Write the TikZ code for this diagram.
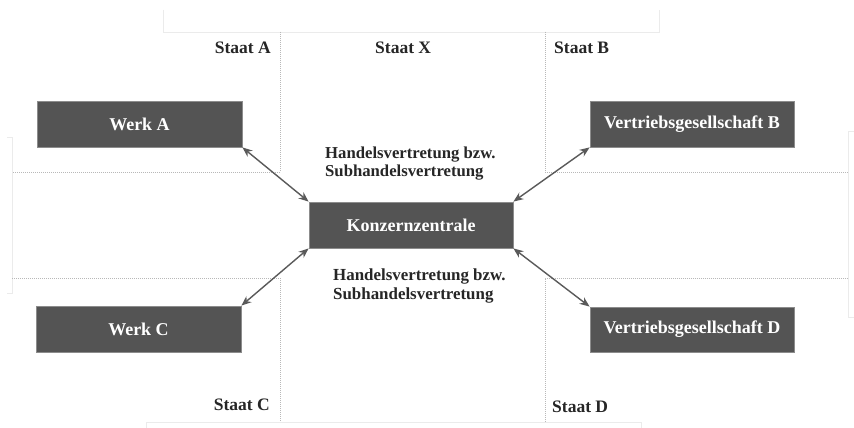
\documentclass[tikz,border=0pt]{standalone}
\usepackage{fontspec}
\setmainfont{Liberation Serif}
\usetikzlibrary{arrows.meta}
\definecolor{boxfill}{HTML}{545454}
\definecolor{boxborder}{HTML}{8C8C8C}
\definecolor{arrowgray}{HTML}{5A5A5A}
\definecolor{dotgray}{HTML}{B8B8B8}
\definecolor{faintgray}{HTML}{EBEBEB}
\definecolor{labeltext}{HTML}{262626}
\tikzset{
  unitbox/.style={rectangle, fill=boxfill, draw=boxborder, line width=0.8pt,
    minimum width=205pt, minimum height=46pt, inner sep=0pt,
    text=white, font=\fontsize{18}{20}\selectfont\bfseries},
  staatlabel/.style={inner sep=0pt, text=labeltext, font=\fontsize{17.5}{20}\selectfont\bfseries},
  handels/.style={inner sep=0pt, align=left, text=labeltext},
  link/.style={draw=arrowgray, line width=1.4pt, {Stealth[length=10pt,width=8pt]}-{Stealth[length=10pt,width=8pt]}},
  border/.style={draw=dotgray, line width=0.9pt, dash pattern=on 1pt off 1pt},
  faint/.style={draw=faintgray, line width=0.9pt}
}
\begin{document}
\begin{tikzpicture}[x=1pt,y=-1pt]
\useasboundingbox[fill=white] (0,0) rectangle (854,428);
% faint frame lines
\draw[faint] (163,10) -- (163,32) -- (659,32) -- (659,10);
\draw[faint] (7,137) -- (12,137) -- (12,293) -- (7,293);
\draw[faint] (854,131) -- (848,131) -- (848,317) -- (854,317);
\draw[faint] (146,428) -- (146,422) -- (641,422) -- (641,428);
% state borders
\draw[border] (280,32) -- (280,172) -- (12,172);
\draw[border] (545,32) -- (545,172) -- (848,172);
\draw[border] (12,278) -- (280,278) -- (280,422);
\draw[border] (848,278) -- (545,278) -- (545,422);
% boxes
\node[unitbox] (wa) at (139.5,124) {Werk A};
\node[unitbox, minimum width=204pt] (vb) at (692,124) {Vertriebsgesellschaft B};
\node[unitbox] (wc) at (138.5,329) {Werk C};
\node[unitbox, minimum width=204pt, minimum height=45pt] (vd) at (692,329.5) {Vertriebsgesellschaft D};
\node[unitbox, minimum width=204pt] (kz) at (411,225) {Konzernzentrale};
% labels
\node[staatlabel, anchor=east] (sa) at (271,48) {Staat A};
\node[staatlabel, anchor=west] (sx) at (375,48) {Staat X};
\node[staatlabel, anchor=west] (sb) at (554,48) {Staat B};
\node[staatlabel, anchor=east] (sc) at (270,405) {Staat C};
\node[staatlabel, anchor=west] (sd) at (552,407) {Staat D};
\node[handels, anchor=west, font=\fontsize{16.7}{18}\selectfont\bfseries] (h1) at (325,164) {Handelsvertretung bzw.\\Subhandelsvertretung};
\node[handels, anchor=west, font=\fontsize{16.9}{19}\selectfont\bfseries] (h2) at (333,285.5) {Handelsvertretung bzw.\\Subhandelsvertretung};
% connectors
\draw[link] (wa.south east) -- (kz.north west);
\draw[link] (vb.south west) -- (kz.north east);
\draw[link] (wc.north east) -- (kz.south west);
\draw[link] (vd.north west) -- (kz.south east);
\end{tikzpicture}
\end{document}
